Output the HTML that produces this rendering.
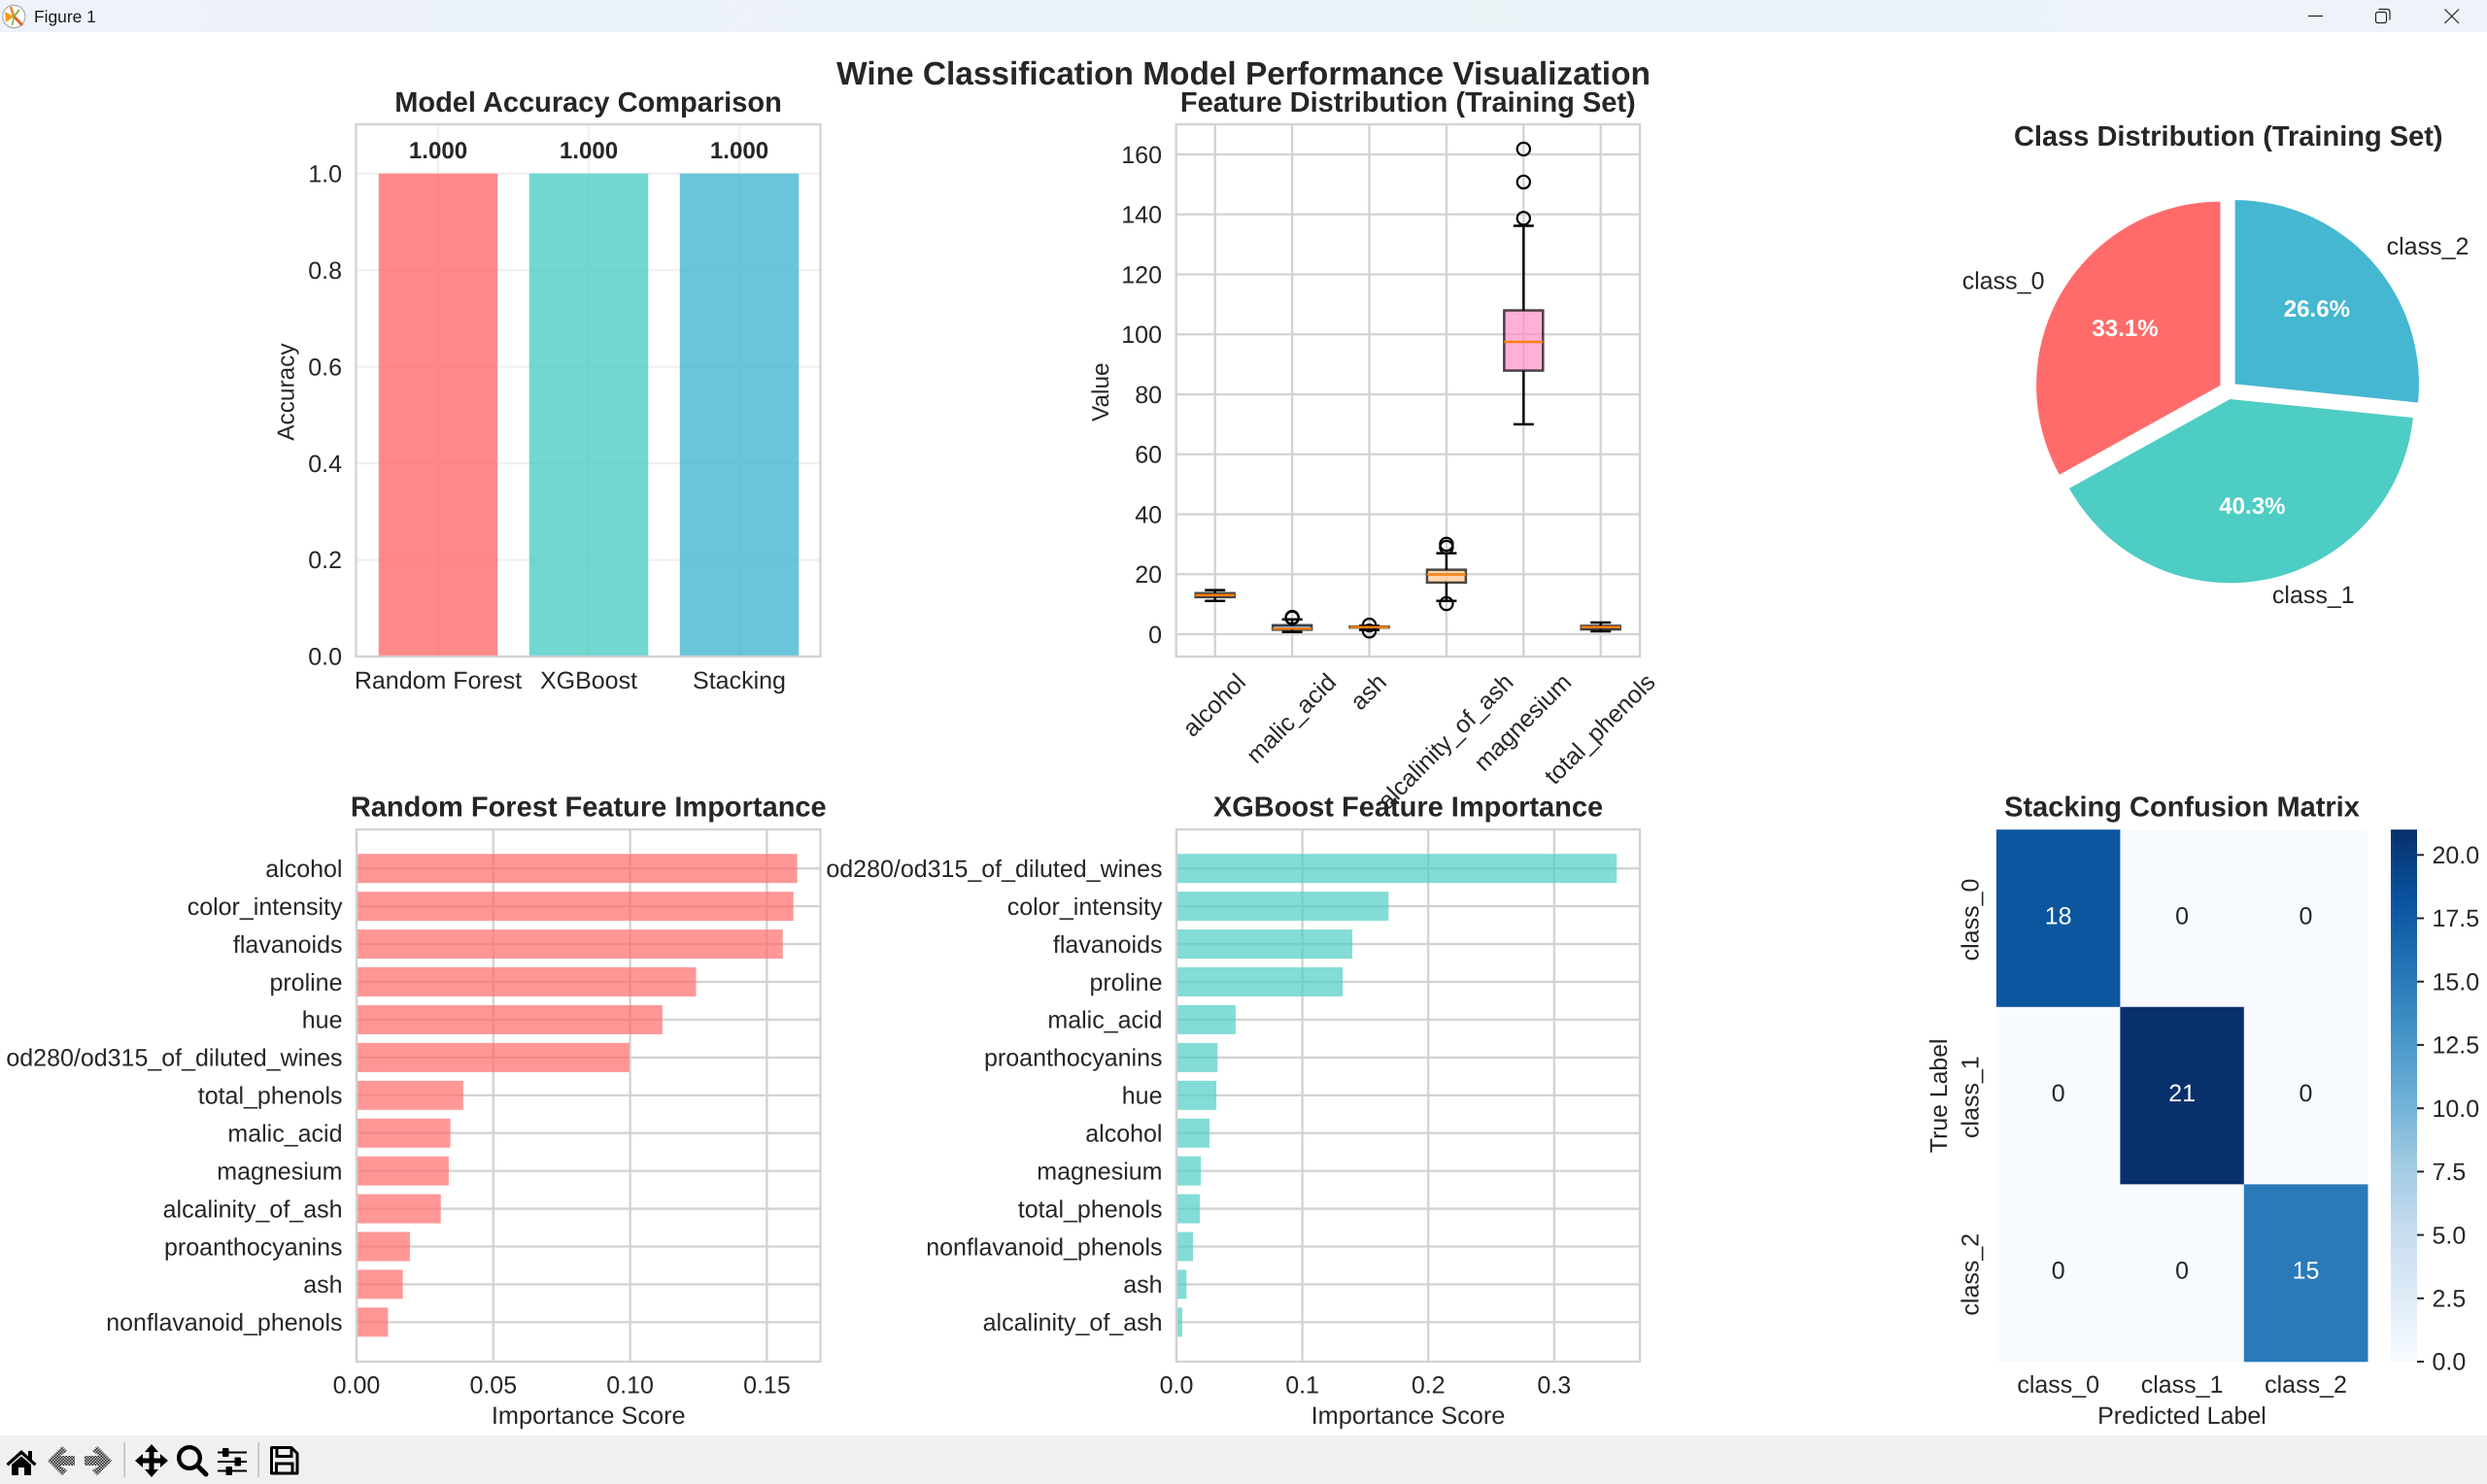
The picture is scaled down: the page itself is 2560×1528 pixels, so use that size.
<!DOCTYPE html>
<html lang="en">
<head>
<meta charset="utf-8">
<title>Figure 1</title>
<style>
html,body{margin:0;padding:0;background:#fff;}
body{width:2560px;height:1528px;overflow:hidden;}
svg{display:block;}
text{font-family:"Liberation Sans",Arial,sans-serif;fill:#262626;text-rendering:geometricPrecision;}
</style>
</head>
<body>
<svg id="fig" xmlns="http://www.w3.org/2000/svg" width="2560" height="1528" viewBox="0 0 2560 1528">
  <defs>
    <linearGradient id="titlebar-grad" x1="0" y1="0" x2="1" y2="0">
      <stop offset="0" stop-color="#eef2fb"/>
      <stop offset="0.5" stop-color="#eaf3f7"/>
      <stop offset="1" stop-color="#eef3f9"/>
    </linearGradient>
    <pattern id="dither" width="3" height="3" patternUnits="userSpaceOnUse">
      <rect width="3" height="3" fill="#c8c8c8"/>
      <rect width="1.5" height="1.5" fill="#222"/>
      <rect x="1.5" y="1.5" width="1.5" height="1.5" fill="#222"/>
    </pattern>
    <linearGradient id="colorbar-grad" x1="0" y1="1" x2="0" y2="0"></linearGradient>
  </defs>

  <rect x="0" y="0" width="2560" height="1528" fill="#ffffff"/>

  <g>
    <rect x="0" y="0" width="2560" height="33" fill="url(#titlebar-grad)"/>
    <g>
      <circle cx="14.3" cy="17" r="11.6" fill="#fff" stroke="#aaa" stroke-width="1.2"/>
      <path d="M14.3 17 L5 12 L6 23 Z" fill="#f39c12"/>
      <path d="M14.3 17 L23 26" stroke="#e2622a" stroke-width="3"/>
      <path d="M14.3 17 L11 7" stroke="#e8842a" stroke-width="2.6"/>
      <path d="M14.3 17 L20 10" stroke="#7db343" stroke-width="1.8"/>
      <path d="M14.3 17 L12.5 26" stroke="#7db343" stroke-width="1.6"/>
    </g>
    <text x="35" y="23" font-size="17.4" fill="#1a1a1a" style="fill:#1a1a1a">Figure 1</text>
    <path d="M2376 16.5 H2391" stroke="#222" stroke-width="1.2" fill="none"/>
    <g fill="none" stroke="#222" stroke-width="1.2">
      <rect x="2445.5" y="12.5" width="11" height="11" rx="2"/>
      <path d="M2448.5 9.5 H2457 Q2460 9.5 2460 12.5 V20.5"/>
    </g>
    <path d="M2516.5 9.5 L2531 24 M2531 9.5 L2516.5 24" stroke="#222" stroke-width="1.2" fill="none"/>
  </g>

  <text x="1280" y="87" font-size="33.4" font-weight="700" text-anchor="middle">Wine Classification Model Performance Visualization</text>

  <g id="accuracy-chart"></g>
  <g id="xgb-chart"></g>
  <g id="rf-chart"></g>
  <g id="box-chart"></g>
  <g id="pie-chart"></g>
  <g id="cm-chart"></g>

  <g>
    <rect x="0" y="1478" width="2560" height="50" fill="#f0f0f0"/>
    <path fill="#000" d="M22 1493 L29 1499.5 V1494 H33 V1503 L37.5 1507 L35.5 1509.5 L22 1497.5 L8.5 1509.5 L6.5 1507 Z M12 1508 L22 1499.5 L32 1508 V1519 H25 V1511 H19 V1519 H12 Z"/>
    <path fill="url(#dither)" d="M49 1504 L64 1489 L69 1494 L62 1499 H77 V1509 H62 L69 1514 L64 1519 Z"/>
    <path fill="url(#dither)" d="M115 1504 L100 1489 L95 1494 L102 1499 H87 V1509 H102 L95 1514 L100 1519 Z"/>
    <rect x="127.5" y="1485" width="1.2" height="36" fill="#b0b0b0"/>
    <path fill="#000" d="M156 1487 L163 1495 H158.5 V1501.5 H165 V1497 L173 1504 L165 1511 V1506.5 H158.5 V1513 H163 L156 1521 L149 1513 H153.5 V1506.5 H147 V1511 L139 1504 L147 1497 V1501.5 H153.5 V1495 H149 Z"/>
    <g fill="none" stroke="#000">
      <circle cx="195" cy="1501" r="10.8" stroke-width="4.4"/>
      <path d="M203 1509 L212 1518" stroke-width="5" stroke-linecap="round"/>
    </g>
    <g>
      <path d="M224 1495.5 H254 M224 1505 H254 M224 1514.5 H254" stroke="#000" stroke-width="2" fill="none"/>
      <rect x="229" y="1491" width="6.5" height="9" rx="1" fill="#000"/>
      <rect x="241.5" y="1500.5" width="6.5" height="9" rx="1" fill="#000"/>
      <rect x="232.5" y="1510" width="6.5" height="9" rx="1" fill="#000"/>
    </g>
    <rect x="265.5" y="1485" width="1.2" height="36" fill="#b0b0b0"/>
    <g fill="none" stroke="#000" stroke-width="3">
      <path d="M279.5 1490.5 H300 L306 1496.5 V1517 H279.5 Z" stroke-linejoin="round"/>
      <path d="M285 1490.5 V1499.5 H300 V1490.5"/>
      <path d="M284.5 1517 V1507 H301 V1517"/>
    </g>
  </g>
</svg>

<script>
/* ---------- accuracy chart data ---------- */
const accuracyModels = ['Random Forest', 'XGBoost', 'Stacking'];
const accuracyValues = [1.0, 1.0, 1.0];
const accuracyTicks = [0.0, 0.2, 0.4, 0.6, 0.8, 1.0];

/* ---------- box plot data ---------- */
const boxFeatures = ['alcohol', 'malic_acid', 'ash', 'alcalinity_of_ash', 'magnesium', 'total_phenols'];
const boxWhiskerLow = [11.1, 0.74, 1.4, 11.1, 70, 0.98];
const boxQ1 = [12.36, 1.5, 2.2, 17.2, 87.9, 1.6];
const boxMedian = [13.05, 1.87, 2.36, 19.9, 97.5, 2.36];
const boxQ3 = [13.68, 3.0, 2.56, 21.5, 108, 2.8];
const boxWhiskerHigh = [14.7, 4.95, 2.8, 27, 136.2, 3.88];
const boxOutliers = [[], [5.4, 5.65], [3.05, 1.05], [30, 29, 10.2], [138.7, 150.8, 161.8], []];
const boxTicks = [0, 20, 40, 60, 80, 100, 120, 140, 160];

/* ---------- pie data ---------- */
const pieLabels = ['class_0', 'class_1', 'class_2'];
const pieCounts = [41, 50, 33];

/* ---------- random forest importance ---------- */
const rfFeatures = ['alcohol', 'color_intensity', 'flavanoids', 'proline', 'hue', 'od280/od315_of_diluted_wines', 'total_phenols', 'malic_acid', 'magnesium', 'alcalinity_of_ash', 'proanthocyanins', 'ash', 'nonflavanoid_phenols'];
const rfValues = [0.1611, 0.1597, 0.1558, 0.1241, 0.1118, 0.0997, 0.0390, 0.0343, 0.0337, 0.0308, 0.0195, 0.0169, 0.0115];
const rfTicks = ['0.00', '0.05', '0.10', '0.15'];

/* ---------- xgboost importance ---------- */
const xgbFeatures = ['od280/od315_of_diluted_wines', 'color_intensity', 'flavanoids', 'proline', 'malic_acid', 'proanthocyanins', 'hue', 'alcohol', 'magnesium', 'total_phenols', 'nonflavanoid_phenols', 'ash', 'alcalinity_of_ash'];
const xgbValues = [0.3497, 0.1685, 0.1397, 0.132, 0.047, 0.0326, 0.0317, 0.0262, 0.0194, 0.0186, 0.0131, 0.008, 0.0046];
const xgbTicks = ['0.0', '0.1', '0.2', '0.3'];

/* ---------- confusion matrix ---------- */
const cmClasses = ['class_0', 'class_1', 'class_2'];
const cmValues = [[18, 0, 0], [0, 21, 0], [0, 0, 15]];
const cbTicks = ['0.0', '2.5', '5.0', '7.5', '10.0', '12.5', '15.0', '17.5', '20.0'];

/* ---------- palette ---------- */
const RED = '#FF6B6B', TEAL = '#4ECDC4', BLUE = '#45B7D1';
const accuracyColors = [RED, TEAL, BLUE];
const boxColors = ['#f08a8a', '#5d9ad8', '#8fcf8f', '#ffc38c', '#ff8fc7', '#a08cd8'];
const pieColors = [RED, TEAL, BLUE];
const blueRamp = ['#f7fbff', '#deebf7', '#c6dbef', '#9ecae1', '#6baed6', '#4292c6', '#2171b5', '#08519c', '#08306b'];
const GRID = '#d2d2d2', GRID_W = 2.3, TICK_FS = 25, BOLD_FS = 24.1, TITLE_FS = 29;

const NS = 'http://www.w3.org/2000/svg';
function add(parent, tag, attrs, content) {
  const n = document.createElementNS(NS, tag);
  for (const k in attrs) n.setAttribute(k, attrs[k]);
  if (content !== undefined) n.textContent = content;
  parent.appendChild(n);
  return n;
}
function txt(parent, str, x, y, opts) {
  const o = opts || {};
  const a = {x: x, y: y, 'font-size': o.size || TICK_FS, 'text-anchor': o.anchor || 'middle'};
  if (o.weight) a['font-weight'] = o.weight;
  if (o.rotate) a.transform = 'rotate(' + o.rotate + ' ' + x + ' ' + y + ')';
  const t = add(parent, 'text', a, str);
  if (o.fill) t.style.fill = o.fill;
  return t;
}
function slug(s) { return String(s).toLowerCase().replace(/[^a-z0-9]+/g, '-'); }
function hLine(parent, x1, x2, y, color) {
  return add(parent, 'line', {x1: x1, x2: x2, y1: y, y2: y, stroke: color, 'stroke-width': GRID_W});
}
function vLine(parent, x, y1, y2, color) {
  return add(parent, 'line', {x1: x, x2: x, y1: y1, y2: y2, stroke: color, 'stroke-width': GRID_W});
}
function frame(parent, L, T, R, B) {
  const f = add(parent, 'rect', {x: L, y: T, width: R - L, height: B - T, fill: 'none', stroke: GRID, 'stroke-width': GRID_W});
  return f;
}

/* ---------- Accuracy bar chart ---------- */
(function () {
  const g = document.getElementById('accuracy-chart');
  const L = 366.5, R = 844.5, T = 128, B = 676;
  const xS = i => 451 + 155 * i;
  const yS = v => 676 - 497.3 * v;
  const barW = 122.5;

  accuracyTicks.forEach(v => {
    const ln = hLine(g, L, R, yS(v), '#f0f0f0');
    
    
    const t = txt(g, v.toFixed(1), 352, yS(v) + 8.7, {anchor: 'end'});
    
    
  });
  accuracyModels.forEach((m, i) => {
    const ln = vLine(g, xS(i), T, B, '#f0f0f0');
    
    
  });
  accuracyModels.forEach((m, i) => {
    const bar = add(g, 'rect', {x: xS(i) - barW / 2, y: yS(accuracyValues[i]), width: barW, height: yS(0) - yS(accuracyValues[i]), fill: accuracyColors[i], 'fill-opacity': 0.8});
    
    
    const val = txt(g, accuracyValues[i].toFixed(3), xS(i), yS(accuracyValues[i]) - 15.5, {weight: 700, size: BOLD_FS});
    
    
    const lab = txt(g, m, xS(i), 709);
    
    
  });
  const fr = frame(g, L, T, R, B);
  
  
  const yl = txt(g, 'Accuracy', 302.5, 403.6, {rotate: -90, size: 24.4});
  
  
  const tt = txt(g, 'Model Accuracy Comparison', 605.5, 115, {size: TITLE_FS, weight: 700});
  
  
})();

/* ---------- Feature importance charts ---------- */
function drawImportance(g, features, values, ticks, color, L, R, scale, labelRight, title, key) {
  const T = 854, B = 1402;
  const xS = v => L + scale * v;
  const yS = i => 894.2 + 38.93 * i;
  const barH = 30;
  ticks.forEach(tk => {
    const v = parseFloat(tk);
    const ln = vLine(g, xS(v), T, B, GRID);
    
    
    const t = txt(g, tk, xS(v), 1434.5);
    
    
  });
  features.forEach((f, i) => {
    const ln = hLine(g, L, R, yS(i), GRID);
    
    
  });
  features.forEach((f, i) => {
    const bar = add(g, 'rect', {x: L, y: yS(i) - barH / 2, width: xS(values[i]) - L, height: barH, fill: color, 'fill-opacity': 0.7});
    
    
    const t = txt(g, f, labelRight, yS(i) + 8.8, {anchor: 'end'});
    
    
  });
  const fr = frame(g, L, T, R, B);
  
  
  const cx = (L + R) / 2;
  const xl = txt(g, 'Importance Score', cx, 1466, {size: 25.3});
  
  
  const tt = txt(g, title, cx, 840.5, {size: TITLE_FS, weight: 700});
  
  
}
drawImportance(document.getElementById('rf-chart'), rfFeatures, rfValues, rfTicks, RED, 367, 844.5, 2816, 352.5, 'Random Forest Feature Importance', 'rf');
drawImportance(document.getElementById('xgb-chart'), xgbFeatures, xgbValues, xgbTicks, TEAL, 1211, 1688, 1296, 1196.5, 'XGBoost Feature Importance', 'xgb');

/* ---------- Box plot ---------- */
(function () {
  const g = document.getElementById('box-chart');
  const L = 1210.7, R = 1688, T = 128, B = 676;
  const xS = i => 1250.7 + 79.4 * i;
  const yS = v => 653 - 3.0875 * v;
  const boxW = 40, capW = 21, LW = 2.5;

  boxTicks.forEach(v => {
    const ln = hLine(g, L, R, yS(v), GRID);
    
    
    const t = txt(g, String(v), 1196, yS(v) + 8.8, {anchor: 'end'});
    
    
  });
  boxFeatures.forEach((f, i) => {
    const ln = vLine(g, xS(i), T, B, GRID);
    
    
  });
  boxFeatures.forEach((f, i) => {
    const x = xS(i);
    const grp = add(g, 'g', {});
    
    

    const wl = add(grp, 'line', {x1: x, x2: x, y1: yS(boxWhiskerLow[i]), y2: yS(boxQ1[i]), stroke: '#000', 'stroke-width': LW});
    
    
    const wh = add(grp, 'line', {x1: x, x2: x, y1: yS(boxQ3[i]), y2: yS(boxWhiskerHigh[i]), stroke: '#000', 'stroke-width': LW});
    
    
    const cl = add(grp, 'line', {x1: x - capW / 2, x2: x + capW / 2, y1: yS(boxWhiskerLow[i]), y2: yS(boxWhiskerLow[i]), stroke: '#000', 'stroke-width': LW});
    
    
    const ch = add(grp, 'line', {x1: x - capW / 2, x2: x + capW / 2, y1: yS(boxWhiskerHigh[i]), y2: yS(boxWhiskerHigh[i]), stroke: '#000', 'stroke-width': LW});
    
    

    boxOutliers[i].forEach(v => {
      const c = add(grp, 'circle', {cx: x, cy: yS(v), r: 6.6, fill: 'none', stroke: '#000', 'stroke-width': LW - 0.3});
      
      
    });

    const rect = add(grp, 'rect', {x: x - boxW / 2, y: yS(boxQ3[i]), width: boxW, height: yS(boxQ1[i]) - yS(boxQ3[i]), fill: boxColors[i], 'fill-opacity': 0.7, stroke: '#000', 'stroke-opacity': 0.7, 'stroke-width': LW});
    
    
    const med = add(grp, 'line', {x1: x - boxW / 2, x2: x + boxW / 2, y1: yS(boxMedian[i]), y2: yS(boxMedian[i]), stroke: '#ff7f0e', 'stroke-width': LW});
    
    
  });
  const fr = frame(g, L, T, R, B);
  
  

  boxFeatures.forEach((f, i) => {
    const t = add(g, 'text', {x: 0, y: 0, 'font-size': TICK_FS, 'text-anchor': 'middle'}, f);
    
    
    const w = t.getComputedTextLength();
    const cy = 693 + (w + 17) * Math.SQRT1_2 / 2;
    t.setAttribute('transform', 'translate(' + xS(i) + ' ' + cy + ') rotate(-45) translate(0 7)');
  });

  const yl = txt(g, 'Value', 1141, 403.7, {rotate: -90, size: 24.4});
  
  
  const tt = txt(g, 'Feature Distribution (Training Set)', 1449.3, 115, {size: TITLE_FS, weight: 700});
  
  
})();

/* ---------- Pie ---------- */
(function () {
  const g = document.getElementById('pie-chart');
  const cx = 2293.6, cy = 401.7, r = 189.3, explode = 0.05 * r;
  const total = pieCounts.reduce((a, b) => a + b, 0);
  let start = 90;
  const texts = [];
  pieCounts.forEach((c, i) => {
    const sweep = c / total * 360;
    const end = start + sweep;
    const mid = (start + end) / 2 * Math.PI / 180;
    const ox = cx + explode * Math.cos(mid);
    const oy = cy - explode * Math.sin(mid);
    const a0 = start * Math.PI / 180, a1 = end * Math.PI / 180;
    const d = 'M' + ox + ' ' + oy +
      ' L' + (ox + r * Math.cos(a0)) + ' ' + (oy - r * Math.sin(a0)) +
      ' A' + r + ' ' + r + ' 0 ' + (sweep > 180 ? 1 : 0) + ' 0 ' + (ox + r * Math.cos(a1)) + ' ' + (oy - r * Math.sin(a1)) + ' Z';
    const slice = add(g, 'path', {d: d, fill: pieColors[i]});
    
    
    texts.push({i: i, mid: mid, ox: ox, oy: oy, pct: c / total * 100});
    start = end;
  });
  texts.forEach(o => {
    const leftSide = Math.cos(o.mid) < 0;
    const lx = o.ox + 1.1 * r * Math.cos(o.mid) + (leftSide ? -1.5 : 1.5);
    const ly = o.oy - 1.1 * r * Math.sin(o.mid);
    const lab = txt(g, pieLabels[o.i], lx, ly + 6, {anchor: leftSide ? 'end' : 'start'});
    
    
    const px = o.ox + 0.6 * r * Math.cos(o.mid);
    const py = o.oy - 0.6 * r * Math.sin(o.mid);
    const pct = txt(g, o.pct.toFixed(1) + '%', px, py + 6.8, {weight: 700, size: BOLD_FS, fill: '#ffffff'});
    
    
  });
  const tt = txt(g, 'Class Distribution (Training Set)', 2293.8, 150, {size: TITLE_FS, weight: 700});
  
  
})();

/* ---------- Confusion matrix ---------- */
(function () {
  const g = document.getElementById('cm-chart');
  const L = 2055, R = 2437.2, T = 854.2, B = 1402;
  const n = cmClasses.length;
  const cw = (R - L) / n, ch = (B - T) / n;
  const xS = j => L + cw * j;
  const yS = i => T + ch * i;
  const vmax = Math.max.apply(null, cmValues.map(r => Math.max.apply(null, r)));
  const vmin = Math.min.apply(null, cmValues.map(r => Math.min.apply(null, r)));
  function hex(h) { return [1, 3, 5].map(k => parseInt(h.substr(k, 2), 16)); }
  function colorOf(v) {
    const t = (v - vmin) / (vmax - vmin) * (blueRamp.length - 1);
    const k = Math.min(Math.floor(t), blueRamp.length - 2);
    const a = hex(blueRamp[k]), b = hex(blueRamp[k + 1]), f = t - k;
    return 'rgb(' + a.map((c, q) => Math.round(c + (b[q] - c) * f)).join(',') + ')';
  }
  cmValues.forEach((row, i) => row.forEach((v, j) => {
    const cell = add(g, 'rect', {x: xS(j), y: yS(i), width: cw + 0.3, height: ch + 0.3, fill: colorOf(v)});
    
    
  }));
  cmValues.forEach((row, i) => row.forEach((v, j) => {
    const dark = (v - vmin) / (vmax - vmin) > 0.5;
    const t = txt(g, String(v), xS(j) + cw / 2, yS(i) + ch / 2 + 6, {fill: dark ? '#ffffff' : '#262626'});
    
    
  }));
  cmClasses.forEach((c, i) => {
    const xt = txt(g, c, xS(i) + cw / 2, 1434);
    
    
    const yt = txt(g, c, 2036.5, yS(i) + ch / 2 + 1.5, {rotate: -90});
    
    
  });

  const grad = document.getElementById('colorbar-grad');
  blueRamp.forEach((col, k) => {
    add(grad, 'stop', {offset: k / (blueRamp.length - 1), 'stop-color': col});
  });
  const cbL = 2461, cbR = 2488;
  const cbY = v => B - (v - vmin) / (vmax - vmin) * (B - T);
  const cb = add(g, 'rect', {x: cbL, y: T, width: cbR - cbL, height: B - T, fill: 'url(#colorbar-grad)'});
  
  
  cbTicks.forEach(tk => {
    const v = parseFloat(tk);
    const mark = add(g, 'line', {x1: cbR, x2: cbR + 7, y1: cbY(v), y2: cbY(v), stroke: '#262626', 'stroke-width': 2});
    
    
    const t = txt(g, tk, 2503.5, cbY(v) + 8.7, {anchor: 'start'});
    
    
  });
  const yl = txt(g, 'True Label', 2004, 1128.3, {rotate: -90, size: 24.8});
  
  
  const xl = txt(g, 'Predicted Label', 2246, 1466);
  
  
  const tt = txt(g, 'Stacking Confusion Matrix', 2246, 840.5, {size: TITLE_FS, weight: 700});
  
  
})();
</script>
</body>
</html>
